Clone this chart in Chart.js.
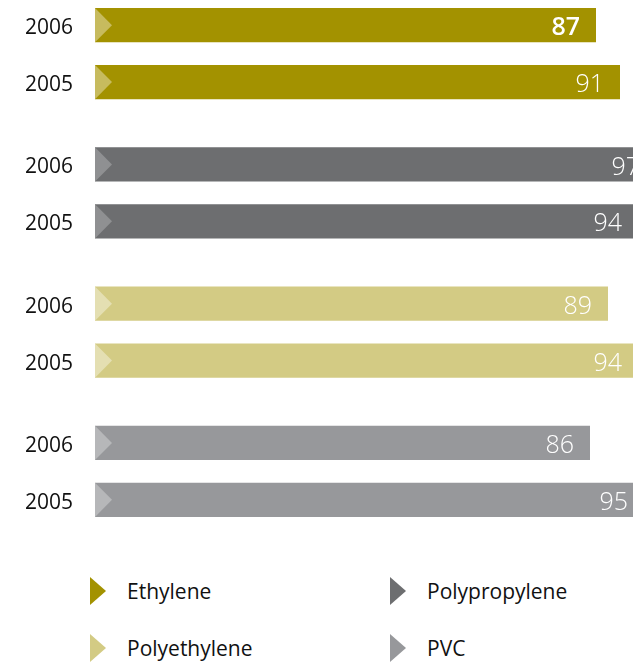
<!DOCTYPE html>
<html>
<head>
<meta charset="utf-8">
<script src="https://cdn.jsdelivr.net/npm/chart.js@4/dist/chart.umd.min.js"></script>
<style>
  html, body { margin: 0; padding: 0; background: #fff; overflow: hidden; }
  body { width: 633px; height: 662px; position: relative; font-family: "Open Sans", sans-serif; }
  #wrap { position: absolute; left: 0; top: -16px; width: 674px; height: 557px; }
  .leg { position: absolute; display: flex; align-items: center; font-size: 21px; color: #111; }
  .tri { width: 0; height: 0; border-top: 14px solid transparent; border-bottom: 14px solid transparent; margin-right: 21px; }
</style>
</head>
<body>
<div id="wrap"><canvas id="chart"></canvas></div>
<div id="legend"></div>
<script>
// ------------------- Data ------------------- //
const groups = ["Ethylene", "Polypropylene", "Polyethylene", "PVC"];
const years = ["2006", "2005"];
const values2006 = [87, 97, 89, 86];
const values2005 = [91, 94, 94, 95];

const barColors = ["#a39200", "#6d6e70", "#d3cb84", "#97989b"];
const tipColors = ["#c7bb5e", "#8f9092", "#e4dfb2", "#b6b7b9"];

// ------------------- Plugin: triangles, year labels, values ------------------- //
const decorate = {
  id: "decorate",
  afterDatasetsDraw(chart) {
    const ctx = chart.ctx;
    const left = chart.chartArea.left; // bars are clipped here (axis starts above zero)
    chart.data.datasets.forEach((ds, di) => {
      const meta = chart.getDatasetMeta(di);
      meta.data.forEach((bar, i) => {
        const h = bar.height;
        const top = bar.y - h / 2;

        // light triangle at the start of the bar
        ctx.save();
        ctx.fillStyle = tipColors[i];
        ctx.beginPath();
        ctx.moveTo(left, top);
        ctx.lineTo(left + 17, bar.y);
        ctx.lineTo(left, top + h);
        ctx.closePath();
        ctx.fill();

        // year label on the left
        ctx.fillStyle = "#111";
        ctx.font = "21px 'Open Sans'";
        ctx.textAlign = "right";
        ctx.textBaseline = "middle";
        ctx.fillText(years[di], 73, bar.y + 3);

        // value inside the bar end
        const bold = di === 0 && i === 0;
        ctx.fillStyle = "#fff";
        ctx.font = (bold ? "600 " : "300 ") + "25px 'Open Sans'";
        ctx.fillText(String(ds.data[i]), bar.x - 16, bar.y + 3);
        ctx.restore();
      });
    });
  }
};

// ------------------- Chart ------------------- //
new Chart(document.getElementById("chart"), {
  type: "bar",
  data: {
    labels: groups,
    datasets: [
      { label: years[0], data: values2006, backgroundColor: barColors },
      { label: years[1], data: values2005, backgroundColor: barColors }
    ]
  },
  options: {
    indexAxis: "y",
    responsive: true,
    maintainAspectRatio: false,
    animation: false,
    categoryPercentage: 0.818,
    barPercentage: 0.6,
    layout: { padding: { left: 95, right: 0, top: 0, bottom: 0 } },
    scales: {
      x: { display: false, min: 3.5, max: 100 },
      y: { display: false }
    },
    plugins: {
      legend: { display: false },
      tooltip: { enabled: false }
    }
  },
  plugins: [decorate]
});

// ------------------- Legend ------------------- //
const legend = document.getElementById("legend");
const legPos = [[90, 591], [390, 591], [90, 648], [390, 648]];
groups.forEach((g, i) => {
  const item = document.createElement("div");
  item.className = "leg";
  item.style.left = legPos[i][0] + "px";
  item.style.top = (legPos[i][1] - 16) + "px";
  item.style.height = "32px";
  item.innerHTML = `<span class="tri" style="border-left:16px solid ${barColors[i]}"></span>${g}`;
  legend.appendChild(item);
});
</script>
</body>
</html>
